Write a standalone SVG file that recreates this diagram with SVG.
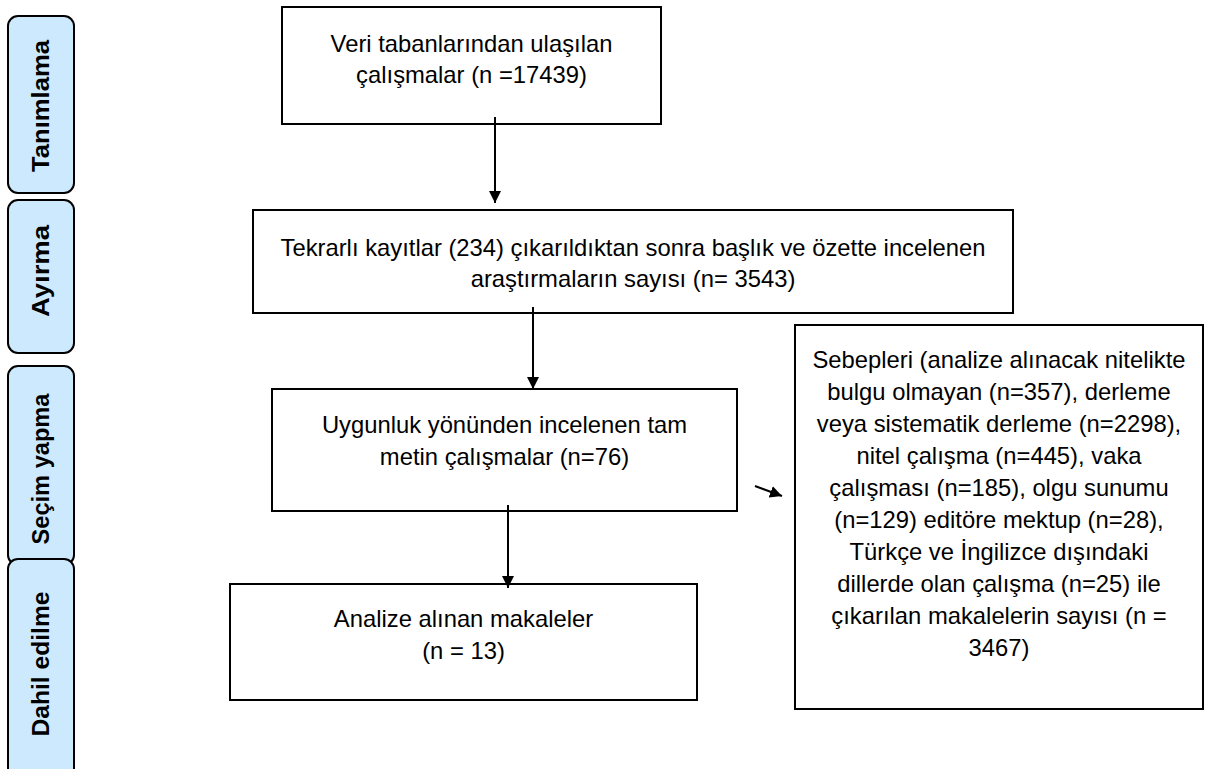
<svg xmlns="http://www.w3.org/2000/svg" width="1205" height="769" viewBox="0 0 1205 769">
<defs>
<style>
.box{fill:#fff;stroke:#000;stroke-width:2}
.side{fill:#cde9fd;stroke:#000;stroke-width:2}
.t{font-family:"Liberation Sans",Arial,sans-serif;font-size:23.8px;fill:#000;text-anchor:middle}
.s{font-family:"Liberation Sans",Arial,sans-serif;font-size:23px;font-weight:bold;fill:#000;text-anchor:middle}
.c{stroke:#000;stroke-width:2;fill:none}
</style>
<marker id="ah" viewBox="0 0 10 10" refX="10" refY="5" markerWidth="6" markerHeight="6" orient="auto" markerUnits="strokeWidth">
<path d="M0,0 L10,5 L0,10 z" fill="#000"/>
</marker>
</defs>
<rect width="1205" height="769" fill="#fff"/>
<g id="side-tanimlama"><rect class="side" x="8" y="16" width="66" height="177" rx="10"/><text class="s" transform="translate(49,106) rotate(-90)" textLength="132" lengthAdjust="spacingAndGlyphs">Tanımlama</text></g>
<g id="side-ayirma"><rect class="side" x="8" y="200" width="66" height="153" rx="10"/><text class="s" transform="translate(49,271) rotate(-90)" textLength="92" lengthAdjust="spacingAndGlyphs">Ayırma</text></g>
<g id="side-secim"><rect class="side" x="8" y="366" width="66" height="199" rx="10"/><text class="s" transform="translate(49,469) rotate(-90)" textLength="151" lengthAdjust="spacingAndGlyphs">Seçim yapma</text></g>
<g id="side-dahil"><rect class="side" x="8" y="559" width="66" height="230" rx="10"/><text class="s" transform="translate(49,664) rotate(-90)" textLength="145" lengthAdjust="spacingAndGlyphs">Dahil edilme</text></g>
<g id="n1"><rect class="box" x="282" y="7" width="379" height="117"/>
<text class="t" x="471.5" y="52">Veri tabanlarından ulaşılan</text>
<text class="t" x="471.5" y="83">çalışmalar (n =17439)</text></g>
<g id="n2"><rect class="box" x="253" y="210" width="760" height="103"/>
<text class="t" x="633" y="256">Tekrarlı kayıtlar (234) çıkarıldıktan sonra başlık ve özette incelenen</text>
<text class="t" x="633" y="287">araştırmaların sayısı (n= 3543)</text></g>
<g id="n3"><rect class="box" x="272" y="389" width="465" height="122"/>
<text class="t" x="504.5" y="433">Uygunluk yönünden incelenen tam</text>
<text class="t" x="504.5" y="465">metin çalışmalar (n=76)</text></g>
<g id="n4"><rect class="box" x="230" y="584" width="467" height="116"/>
<text class="t" x="463.5" y="627">Analize alınan makaleler</text>
<text class="t" x="463.5" y="659">(n = 13)</text></g>
<g id="n5"><rect class="box" x="795" y="325" width="408" height="384"/>
<text class="t" x="999" y="368">Sebepleri (analize alınacak nitelikte</text>
<text class="t" x="999" y="400">bulgu olmayan (n=357), derleme</text>
<text class="t" x="999" y="432">veya sistematik derleme (n=2298),</text>
<text class="t" x="999" y="464">nitel çalışma (n=445), vaka</text>
<text class="t" x="999" y="496">çalışması (n=185), olgu sunumu</text>
<text class="t" x="999" y="528">(n=129) editöre mektup (n=28),</text>
<text class="t" x="999" y="560">Türkçe ve İngilizce dışındaki</text>
<text class="t" x="999" y="592">dillerde olan çalışma (n=25) ile</text>
<text class="t" x="999" y="624">çıkarılan makalelerin sayısı (n =</text>
<text class="t" x="999" y="656">3467)</text>
</g>
<g id="connectors">
<line class="c" x1="495" y1="117" x2="495" y2="203" marker-end="url(#ah)"/>
<line class="c" x1="533" y1="307" x2="533" y2="389" marker-end="url(#ah)"/>
<line class="c" x1="508" y1="505" x2="508" y2="588" marker-end="url(#ah)"/>
<line class="c" x1="755" y1="486" x2="782" y2="496" marker-end="url(#ah)"/>
</g>
</svg>
